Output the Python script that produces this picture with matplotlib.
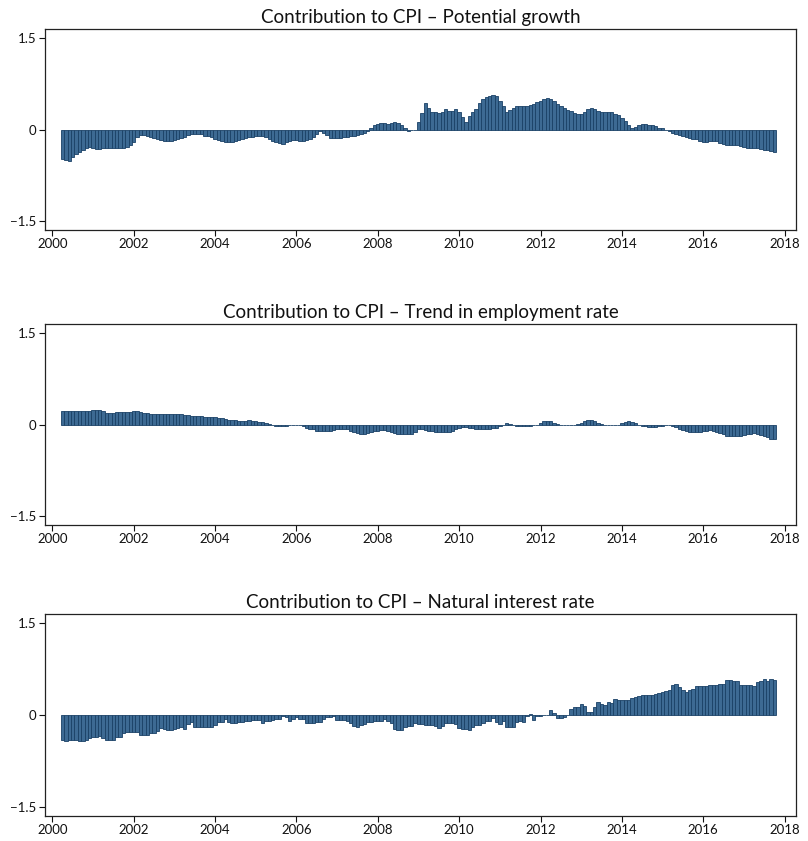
import numpy as np
import matplotlib
matplotlib.use("Agg")
import matplotlib.pyplot as plt

plt.rcParams["font.family"] = ["Lato", "DejaVu Sans"]

# monthly observations, Apr 2000 .. Oct 2017
start_year = 2000.25
titles = [
    "Contribution to CPI \u2013 Potential growth",
    "Contribution to CPI \u2013 Trend in employment rate",
    "Contribution to CPI \u2013 Natural interest rate",
]

potential_growth = [
    -0.48, -0.49, -0.51, -0.45, -0.40, -0.36, -0.33, -0.31, -0.29,
    -0.30, -0.32, -0.32, -0.31, -0.30, -0.31, -0.31, -0.31, -0.31, -0.30, -0.29, -0.26,
    -0.20, -0.13, -0.09, -0.09, -0.11, -0.12, -0.14, -0.16, -0.17, -0.18, -0.19, -0.18,
    -0.17, -0.16, -0.14, -0.12, -0.09, -0.08, -0.08, -0.07, -0.08, -0.10, -0.11, -0.13,
    -0.15, -0.17, -0.19, -0.20, -0.21, -0.20, -0.18, -0.17, -0.16, -0.14, -0.13, -0.12,
    -0.11, -0.10, -0.10, -0.12, -0.15, -0.18, -0.20, -0.22, -0.23, -0.21, -0.19, -0.17,
    -0.17, -0.18, -0.18, -0.17, -0.15, -0.13, -0.08, -0.03, -0.05, -0.09, -0.14, -0.14,
    -0.14, -0.14, -0.13, -0.12, -0.11, -0.10, -0.09, -0.08, -0.06, -0.02, 0.03, 0.07,
    0.09, 0.10, 0.10, 0.09, 0.11, 0.12, 0.11, 0.08, 0.03, -0.02, -0.01, 0.00,
    0.13, 0.27, 0.43, 0.35, 0.29, 0.28, 0.27, 0.28, 0.33, 0.31, 0.31, 0.34,
    0.28, 0.21, 0.13, 0.22, 0.29, 0.34, 0.43, 0.49, 0.53, 0.55, 0.56, 0.55,
    0.47, 0.38, 0.29, 0.32, 0.35, 0.39, 0.39, 0.38, 0.38, 0.40, 0.42, 0.45,
    0.47, 0.50, 0.52, 0.50, 0.46, 0.42, 0.38, 0.35, 0.32, 0.30, 0.27, 0.26,
    0.26, 0.29, 0.33, 0.35, 0.33, 0.30, 0.29, 0.28, 0.28, 0.28, 0.26, 0.23,
    0.19, 0.14, 0.08, 0.02, 0.04, 0.07, 0.09, 0.09, 0.08, 0.07, 0.05, 0.03,
    0.02, 0.00, -0.02, -0.05, -0.07, -0.09, -0.11, -0.12, -0.14, -0.15, -0.16, -0.18,
    -0.20, -0.20, -0.19, -0.18, -0.19, -0.22, -0.24, -0.25, -0.25, -0.26, -0.26, -0.27,
    -0.29, -0.30, -0.30, -0.31, -0.31, -0.32, -0.33, -0.34, -0.35, -0.37,
]

employment_trend = [
    0.22, 0.22, 0.22, 0.22, 0.22, 0.22, 0.22, 0.22, 0.22,
    0.23, 0.24, 0.24, 0.22, 0.19, 0.18, 0.19, 0.20, 0.21, 0.21, 0.21, 0.21,
    0.22, 0.22, 0.21, 0.19, 0.18, 0.17, 0.17, 0.17, 0.17, 0.17, 0.17, 0.17,
    0.17, 0.17, 0.17, 0.16, 0.15, 0.14, 0.14, 0.14, 0.14, 0.13, 0.13, 0.12,
    0.12, 0.11, 0.10, 0.09, 0.08, 0.07, 0.07, 0.06, 0.06, 0.06, 0.07, 0.06,
    0.05, 0.04, 0.04, 0.03, 0.01, -0.01, -0.02, -0.03, -0.03, -0.02, -0.01, -0.01,
    -0.01, 0.00, -0.02, -0.05, -0.07, -0.08, -0.10, -0.11, -0.11, -0.11, -0.10, -0.09,
    -0.08, -0.07, -0.07, -0.08, -0.10, -0.12, -0.14, -0.15, -0.15, -0.14, -0.12, -0.11,
    -0.10, -0.09, -0.09, -0.11, -0.13, -0.14, -0.15, -0.16, -0.16, -0.16, -0.15, -0.13,
    -0.07, -0.08, -0.09, -0.10, -0.11, -0.12, -0.12, -0.12, -0.12, -0.12, -0.10, -0.08,
    -0.05, -0.04, -0.04, -0.05, -0.06, -0.07, -0.07, -0.07, -0.07, -0.07, -0.06, -0.05,
    -0.03, 0.00, 0.02, 0.01, -0.01, -0.02, -0.03, -0.03, -0.02, -0.02, -0.01, 0.00,
    0.02, 0.05, 0.06, 0.05, 0.03, 0.01, 0.00, 0.00, 0.00, 0.00, 0.00, 0.01,
    0.03, 0.06, 0.08, 0.07, 0.05, 0.03, 0.01, 0.00, -0.01, -0.01, -0.01, 0.00,
    0.02, 0.04, 0.05, 0.04, 0.02, 0.00, -0.02, -0.03, -0.04, -0.04, -0.04, -0.03,
    -0.02, -0.01, 0.00, -0.02, -0.04, -0.07, -0.09, -0.11, -0.12, -0.12, -0.12, -0.12,
    -0.11, -0.10, -0.09, -0.10, -0.12, -0.14, -0.16, -0.18, -0.18, -0.19, -0.18, -0.18,
    -0.17, -0.16, -0.15, -0.14, -0.15, -0.17, -0.19, -0.21, -0.23, -0.24,
]

natural_rate = [
    -0.40, -0.42, -0.41, -0.41, -0.41, -0.42, -0.42, -0.41, -0.37,
    -0.35, -0.35, -0.34, -0.38, -0.41, -0.41, -0.40, -0.36, -0.35, -0.30, -0.27, -0.28,
    -0.28, -0.28, -0.33, -0.33, -0.33, -0.30, -0.30, -0.26, -0.21, -0.22, -0.24, -0.24,
    -0.22, -0.21, -0.20, -0.23, -0.14, -0.12, -0.19, -0.20, -0.20, -0.20, -0.20, -0.19,
    -0.16, -0.11, -0.11, -0.06, -0.11, -0.13, -0.13, -0.11, -0.11, -0.09, -0.09, -0.08,
    -0.08, -0.08, -0.13, -0.10, -0.09, -0.08, -0.06, -0.06, -0.02, -0.03, -0.09, -0.07,
    -0.04, -0.07, -0.07, -0.13, -0.13, -0.13, -0.11, -0.11, -0.07, -0.04, -0.04, -0.02,
    -0.08, -0.08, -0.08, -0.09, -0.13, -0.18, -0.20, -0.17, -0.14, -0.12, -0.11, -0.10,
    -0.09, -0.10, -0.07, -0.10, -0.13, -0.23, -0.24, -0.24, -0.20, -0.18, -0.18, -0.13,
    -0.15, -0.15, -0.16, -0.16, -0.16, -0.18, -0.21, -0.18, -0.13, -0.13, -0.13, -0.15,
    -0.21, -0.22, -0.23, -0.25, -0.19, -0.17, -0.16, -0.13, -0.09, -0.09, -0.05, -0.11,
    -0.15, -0.10, -0.20, -0.19, -0.19, -0.11, -0.09, -0.12, -0.02, 0.02, -0.08, -0.01,
    -0.02, 0.00, 0.00, 0.08, 0.03, -0.05, -0.05, -0.04, 0.00, 0.10, 0.13, 0.13,
    0.18, 0.15, 0.05, 0.05, 0.13, 0.21, 0.18, 0.17, 0.21, 0.20, 0.26, 0.25,
    0.24, 0.24, 0.25, 0.28, 0.30, 0.31, 0.32, 0.32, 0.32, 0.33, 0.34, 0.35,
    0.37, 0.39, 0.41, 0.49, 0.51, 0.45, 0.41, 0.37, 0.40, 0.42, 0.47, 0.47,
    0.47, 0.47, 0.49, 0.48, 0.48, 0.51, 0.51, 0.57, 0.57, 0.56, 0.56, 0.48,
    0.48, 0.48, 0.48, 0.47, 0.54, 0.56, 0.58, 0.56, 0.59, 0.57,
]

series = [potential_growth, employment_trend, natural_rate]
year_ticks = list(range(2000, 2019, 2))
value_ticks = [-1.5, 0, 1.5]
value_labels = ["\u22121.5", "0", "1.5"]

W, H = 808, 841
fig = plt.figure(figsize=(W / 100, H / 100), dpi=100)

# axes boxes in pixels: (top, bottom)
boxes = [(29, 230), (324, 525), (614, 816)]
left_px, right_px = 45, 796

for (top, bottom), title, vals in zip(boxes, titles, series):
    ax = fig.add_axes([left_px / W, 1 - bottom / H,
                       (right_px - left_px) / W, (bottom - top) / H])
    x = start_year + np.arange(len(vals)) / 12.0
    ax.bar(x, vals, width=1 / 12.0, color="#3d6a93",
           edgecolor="#1a4166", linewidth=0.6)
    ax.set_xlim(1999.82, 2018.28)
    ax.set_ylim(-1.64, 1.64)
    ax.set_xticks(year_ticks)
    ax.set_yticks(value_ticks)
    ax.set_yticklabels(value_labels)
    ax.tick_params(direction="out", length=4, width=0.8, labelsize=9.5,
                   colors="#111111", pad=2)
    for sp in ax.spines.values():
        sp.set_linewidth(0.9)
        sp.set_color("#222222")
    ax.set_title(title, fontsize=13.5, pad=4, color="#111111")

fig.savefig("out.png", dpi=100)
